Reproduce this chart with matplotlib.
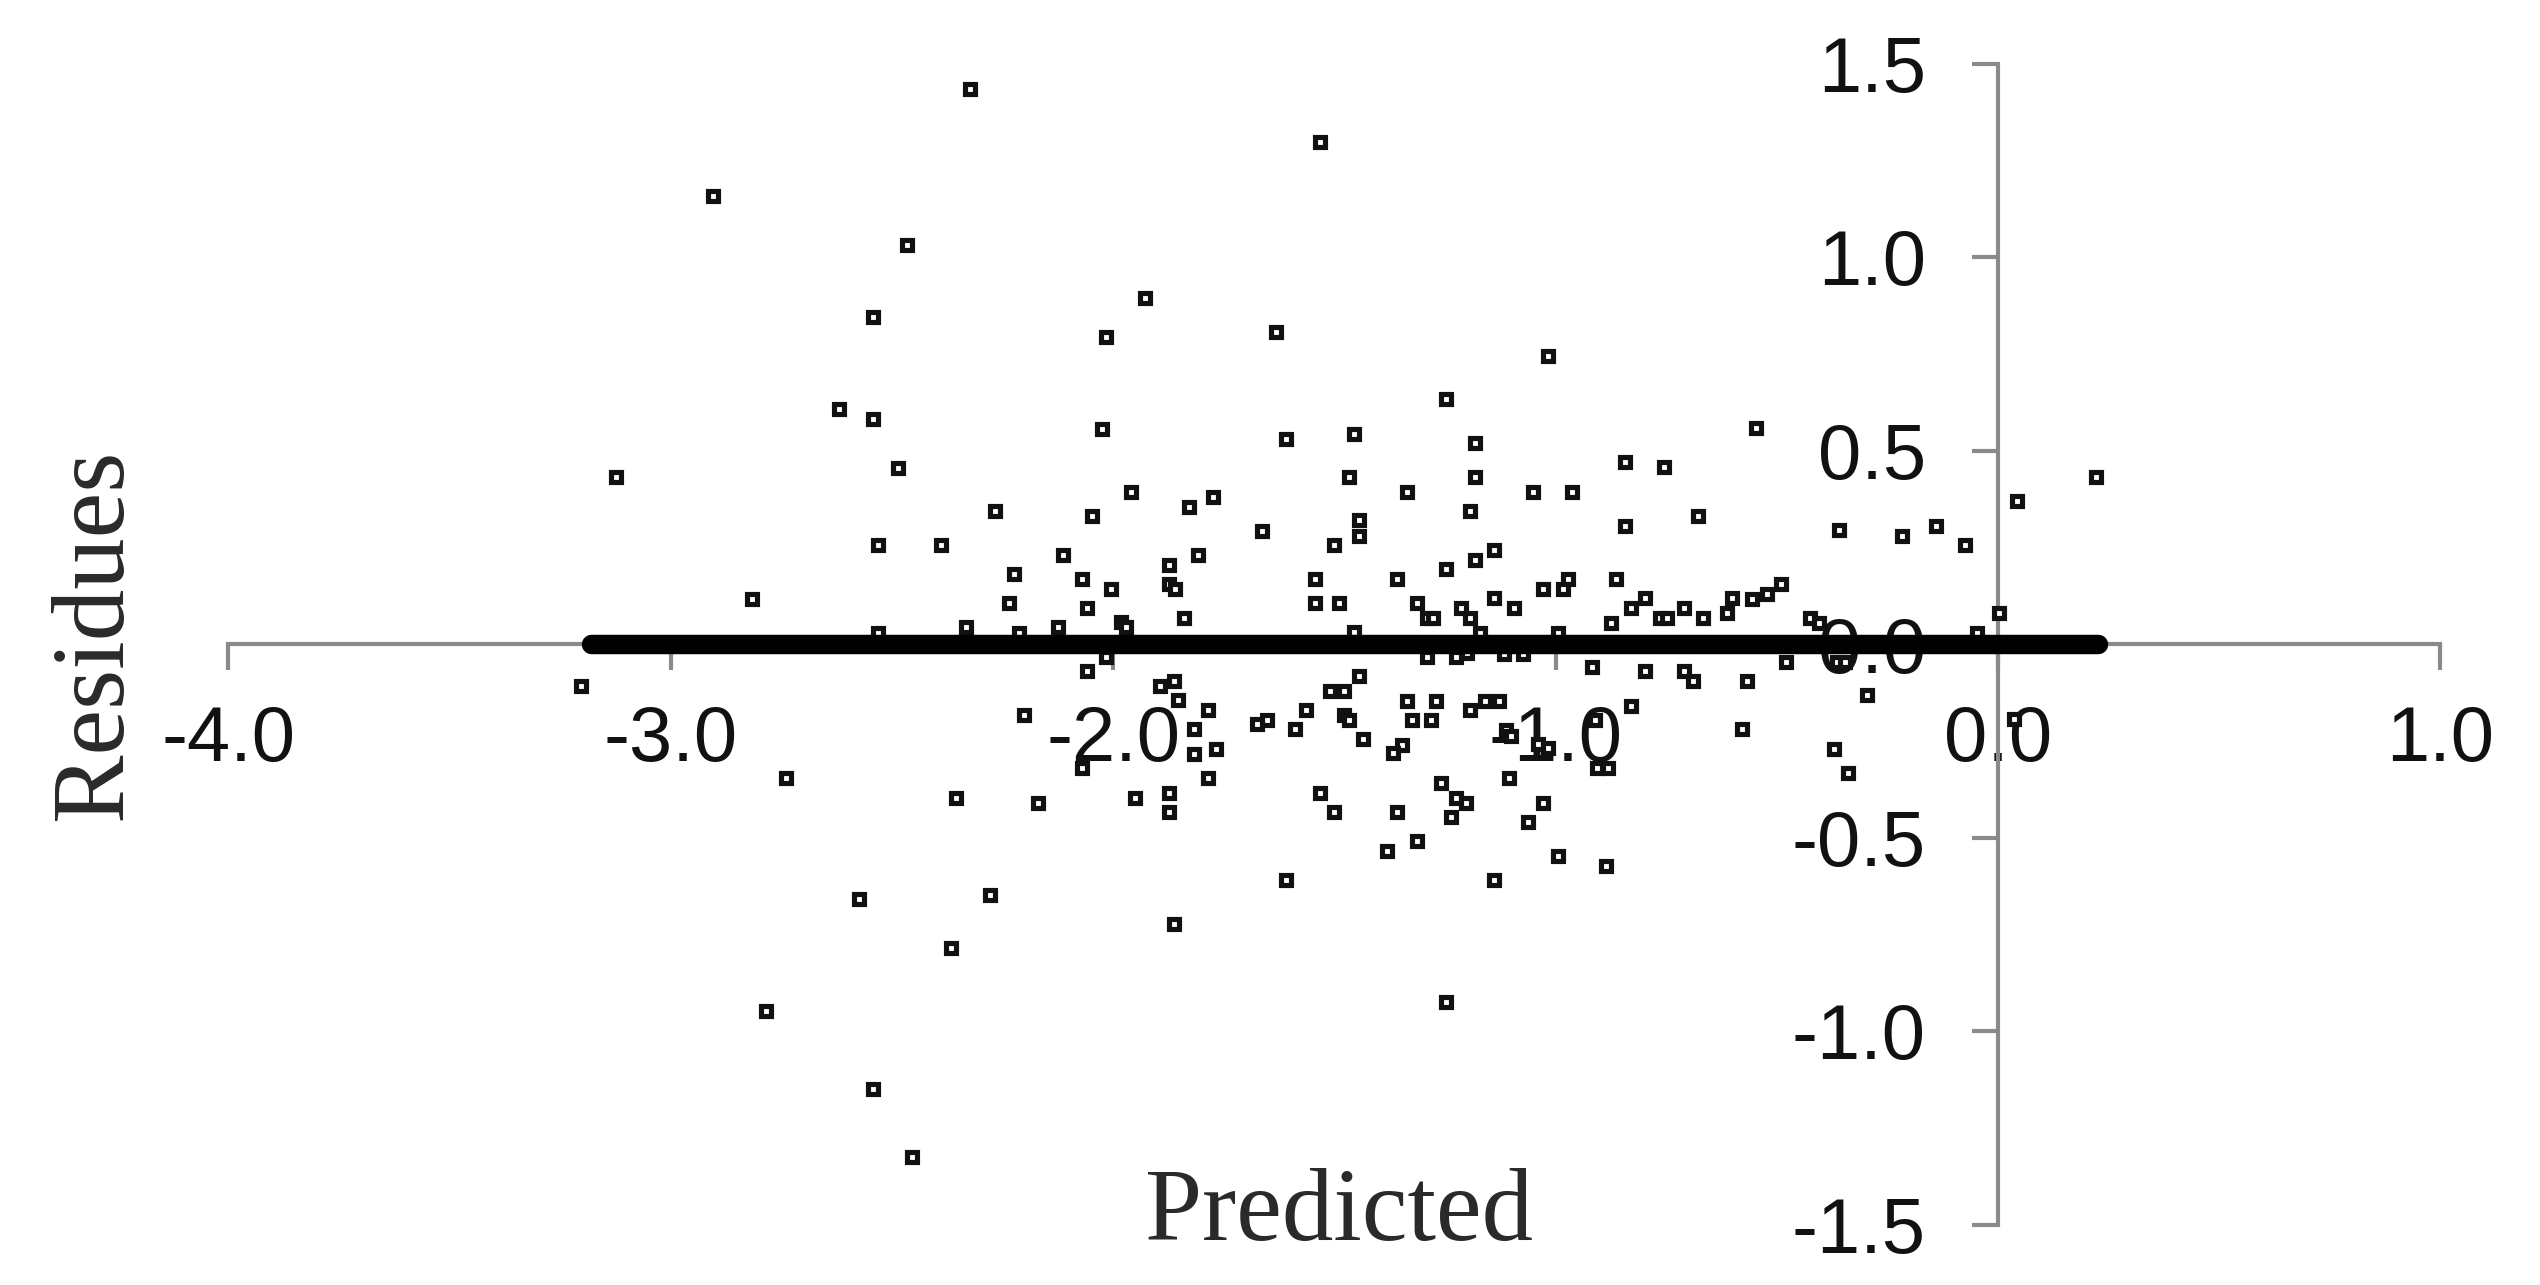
import matplotlib
matplotlib.use("Agg")
import matplotlib.pyplot as plt

# ---- data ----
pred = [
    -2.323, -2.905, -2.466, -1.532, -1.929, -2.542, -2.016, -1.632, -1.017, -1.248,
    -2.619, -2.542, -2.026, -1.609, -1.456, -1.182, -0.546, -3.125, -2.487, -1.467,
    -1.182, -0.843, -0.754, 0.221, -1.960, -1.829, -1.774, -1.335, -1.050, -0.963,
    0.042, -2.268, -2.049, -1.193, -0.677, -1.445, -1.445, -1.664, -0.843, -0.359,
    -0.217, -0.140, -0.074, -2.531, -2.389, -1.500, -1.139, -2.114, -1.808, -1.182,
    -1.873, -1.248, -2.224, -2.071, -1.544, -1.358, -0.973, -0.863, -1.873, -1.860,
    -2.004, -1.028, -0.984, -0.490, -0.523, -2.817, -2.235, -1.544, -1.489, -1.314,
    -1.139, -0.798, -0.601, -0.556, -2.059, -1.095, -1.214, -0.830, -0.710, 0.002,
    -0.612, -1.840, -1.291, -1.276, -1.193, -0.764, -0.749, -0.666, -0.425, -1.982,
    -0.875, -0.405, -2.333, -2.125, -1.971, -1.456, -2.531, -2.213, -1.171, -0.995,
    -0.048,
    -2.016, -1.291, -1.226, -1.201, -1.116, -1.073, -0.480, -0.365, -0.346, -0.918,
    -2.059, -0.798, -0.710, -1.445, -0.689, -0.568, -1.863, -1.895, -3.202, -1.510,
    -1.478, -0.295, -1.853, -1.335, -1.270, -1.160, -1.127, -0.830, -1.786, -1.565,
    -1.193, -2.202, -1.478, -1.653, -1.467, -1.325, -1.281, -0.911, 0.036, -1.676,
    -1.818, -1.588, -1.111, -1.100, -0.578, -1.435, -1.039, -1.348, -1.768, -1.017,
    -0.370, -1.818, -1.367, -2.071, -0.907, -0.881, -0.338, -1.786, -2.740, -1.105,
    -1.260, -1.533, -1.873, -2.355, -1.950, -1.226, -2.169, -1.203, -1.029, -1.873,
    -1.500, -1.358, -1.237, -1.062, -1.314, -1.380, -0.995, -0.886, -1.609, -1.139,
    -2.278, -2.575, -1.862, -2.367, -1.248, -2.784, -2.543, -2.455,
]
resid = [
    1.435, 1.157, 1.032, 1.297, 0.895, 0.844, 0.794, 0.807, 0.744, 0.632,
    0.607, 0.581, 0.556, 0.531, 0.543, 0.519, 0.557, 0.431, 0.456, 0.431,
    0.431, 0.470, 0.457, 0.432, 0.393, 0.355, 0.381, 0.393, 0.393, 0.393,
    0.369, 0.343, 0.331, 0.343, 0.331, 0.320, 0.279, 0.293, 0.306, 0.295,
    0.280, 0.306, 0.255, 0.255, 0.255, 0.255, 0.243, 0.230, 0.230, 0.217,
    0.204, 0.193, 0.180, 0.167, 0.167, 0.167, 0.167, 0.167, 0.155, 0.141,
    0.142, 0.142, 0.142, 0.155, 0.129, 0.117, 0.105, 0.105, 0.105, 0.105,
    0.118, 0.118, 0.118, 0.116, 0.092, 0.092, 0.092, 0.092, 0.092, 0.081,
    0.079, 0.067, 0.067, 0.067, 0.067, 0.066, 0.066, 0.066, 0.066, 0.058,
    0.055, 0.053, 0.043, 0.043, 0.043, 0.032, 0.028, 0.028, 0.028, 0.028,
    0.028,
    -0.034, -0.034, -0.034, -0.023, -0.026, -0.026, -0.046, -0.046, -0.046, -0.059,
    -0.071, -0.071, -0.071, -0.083, -0.096, -0.096, -0.096, -0.109, -0.109, -0.121,
    -0.121, -0.132, -0.145, -0.146, -0.146, -0.146, -0.146, -0.159, -0.171, -0.171,
    -0.171, -0.183, -0.183, -0.196, -0.196, -0.196, -0.196, -0.196, -0.194, -0.208,
    -0.220, -0.220, -0.222, -0.238, -0.220, -0.245, -0.258, -0.261, -0.271, -0.270,
    -0.271, -0.283, -0.282, -0.321, -0.321, -0.321, -0.334, -0.345, -0.347, -0.345,
    -0.360, -0.384, -0.384, -0.397, -0.397, -0.397, -0.410, -0.410, -0.410, -0.435,
    -0.435, -0.435, -0.448, -0.460, -0.509, -0.535, -0.548, -0.573, -0.610, -0.610,
    -0.648, -0.660, -0.724, -0.786, -0.924, -0.948, -1.150, -1.325,
]

# zero-residual band (predicted range)
zero_x = [-3.18, 0.225]
zero_y = [0.0, 0.0]

x_ticks = [-4.0, -3.0, -2.0, -1.0, 0.0, 1.0]
x_tick_labels = ["-4.0", "-3.0", "-2.0", "-1.0", "0.0", "1.0"]
y_ticks = [-1.5, -1.0, -0.5, 0.0, 0.5, 1.0, 1.5]
y_tick_labels = ["-1.5", "-1.0", "-0.5", "0.0", "0.5", "1.0", "1.5"]

x_label = "Predicted"
y_label = "Residues"

# ---- figure ----
W, H = 2540, 1285
fig = plt.figure(figsize=(W / 100, H / 100), dpi=100, facecolor="white")
ax = fig.add_axes([0, 0, 1, 1])
ax.set_facecolor("none")

X0, SX = 1998.0, 442.4   # pixel of x=0, pixels per unit
Y0, SY = 644.0, 387.0    # pixel (from top) of y=0, pixels per unit
ax.set_xlim(-X0 / SX, (W - X0) / SX)
ax.set_ylim((Y0 - H) / SY, Y0 / SY)

gray = "#8a8a8a"
for s in ("top", "right"):
    ax.spines[s].set_visible(False)
ax.spines["left"].set_position(("data", 0))
ax.spines["bottom"].set_position(("data", 0))
ax.spines["left"].set_bounds(-1.5, 1.5)
ax.spines["bottom"].set_bounds(-4.0, 1.0)
for s in ("left", "bottom"):
    ax.spines[s].set_color(gray)
    ax.spines[s].set_linewidth(3)

ax.set_xticks(x_ticks)
ax.set_xticklabels(x_tick_labels)
ax.set_yticks(y_ticks)
ax.set_yticklabels(y_tick_labels)

tick_font = "Liberation Sans"
for lab in ax.get_xticklabels() + ax.get_yticklabels():
    lab.set_fontfamily(tick_font)

ax.tick_params(axis="x", direction="out", length=19, width=3, color=gray,
               labelsize=56, pad=24, labelcolor="#111111")
ax.tick_params(axis="y", direction="out", length=19, width=3, color=gray,
               labelsize=56, pad=33, labelcolor="#111111")

ax.plot(pred, resid, linestyle="none", marker="s", markersize=6.6,
        markerfacecolor="white", markeredgecolor="#111111",
        markeredgewidth=3.7, zorder=3, clip_on=False)
ax.plot(zero_x, zero_y, color="black", linewidth=14,
        solid_capstyle="round", zorder=4)

fig.text(1339 / W, 1 - 1240 / H, x_label, family="Liberation Serif",
         fontsize=74, color="#2a2a2a", ha="center", va="baseline")
fig.text(121 / W, 1 - 634 / H, y_label, family="Liberation Serif",
         fontsize=74, color="#2a2a2a", ha="center", va="baseline",
         rotation=90, rotation_mode="anchor")

fig.savefig("out.png", dpi=100, facecolor="white")
